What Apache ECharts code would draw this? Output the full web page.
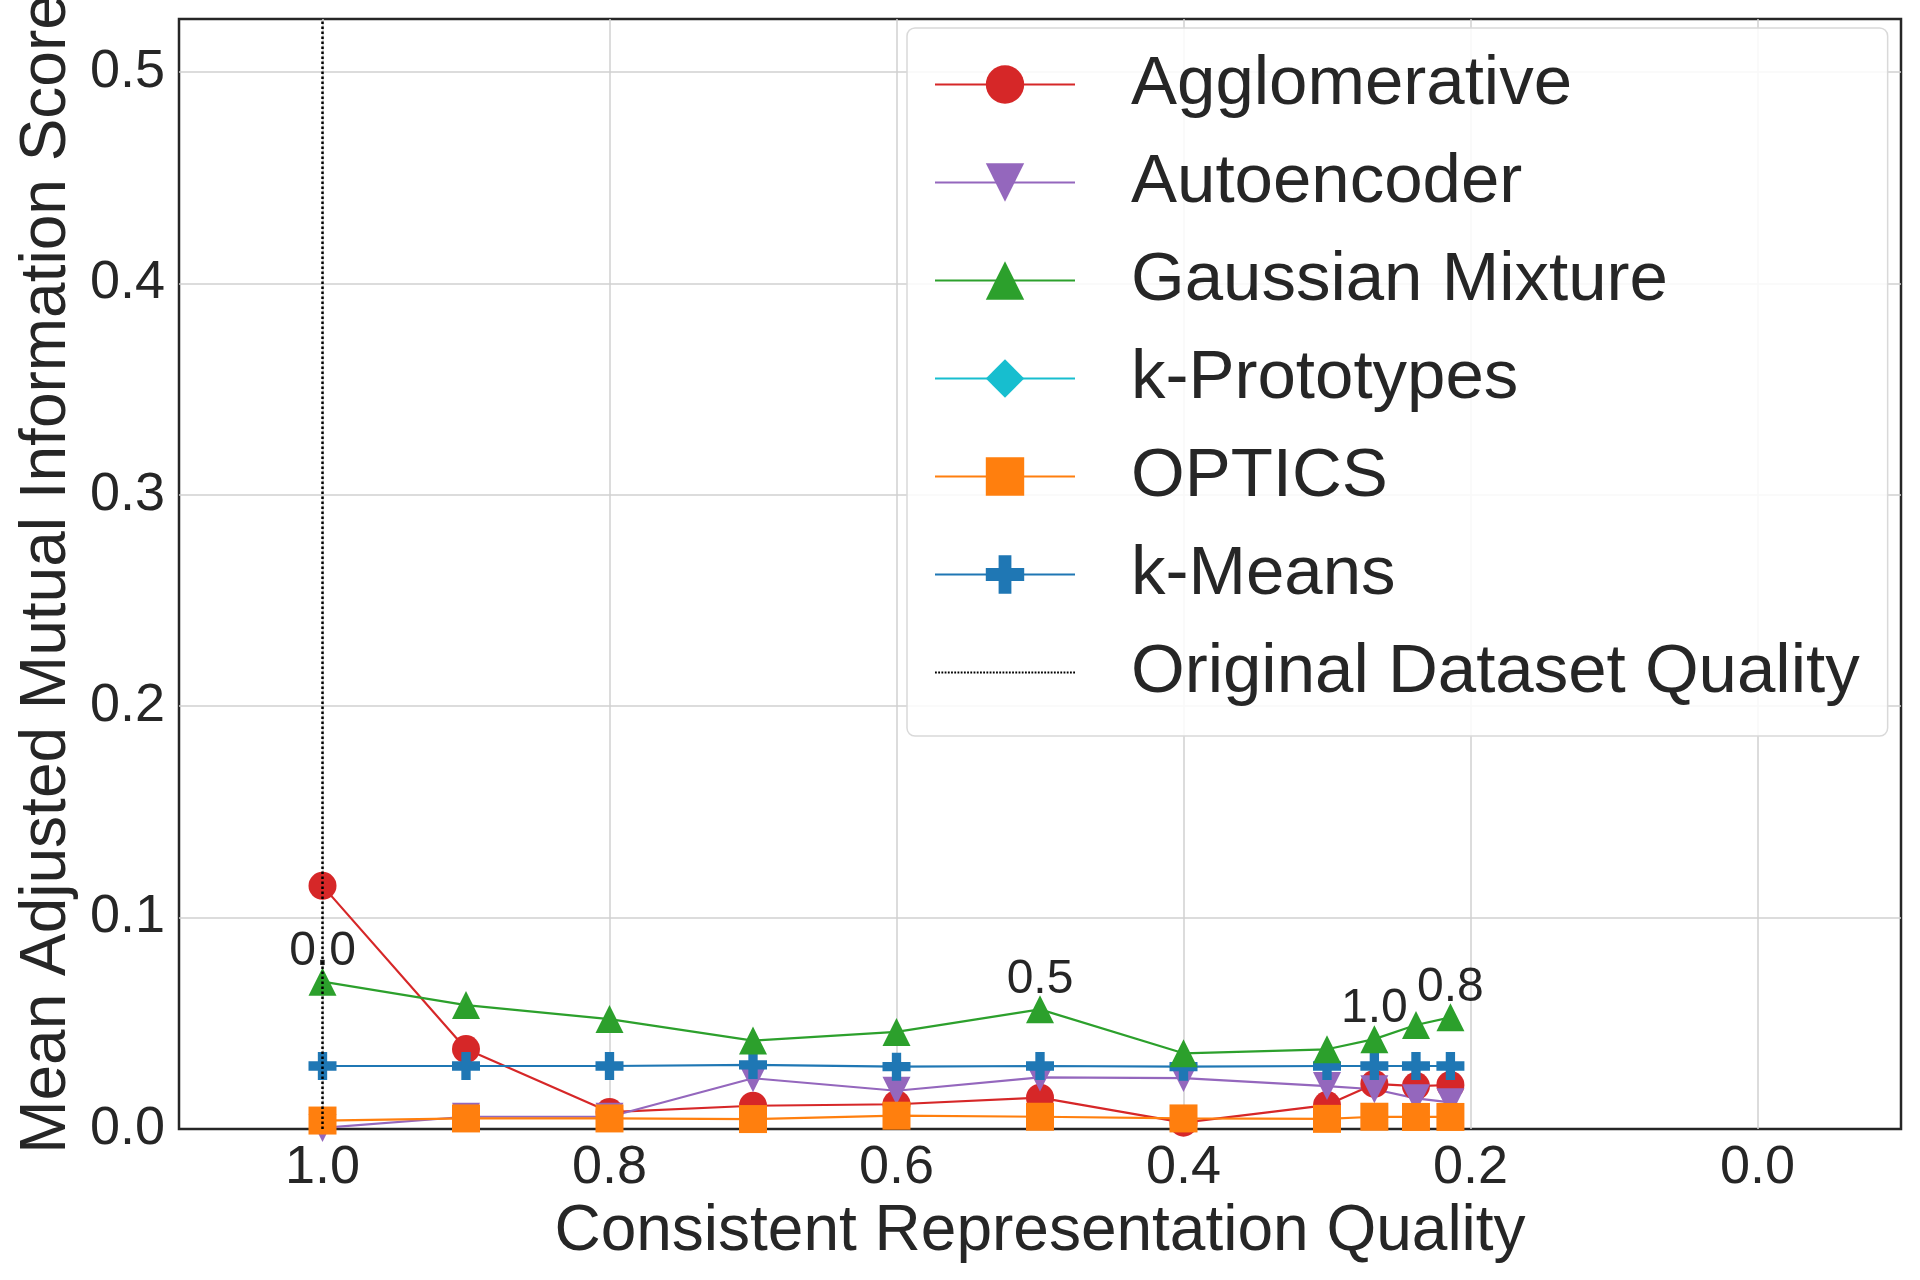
<!DOCTYPE html>
<html>
<head>
<meta charset="utf-8">
<script src="https://cdn.jsdelivr.net/npm/echarts@6/dist/echarts.min.js"></script>
<style>
html,body{margin:0;padding:0;background:#fff;}
#chart{width:1920px;height:1280px;}
</style>
</head>
<body>
<div id="chart"></div>
<script>
// ---- data ----
const quality = [1.0, 0.9, 0.8, 0.7, 0.6, 0.5, 0.4, 0.3, 0.267, 0.238, 0.214];
const agglomerative = [0.115, 0.0378, 0.008, 0.011, 0.0117, 0.0148, 0.003, 0.0113, 0.0213, 0.0203, 0.0208];
const autoencoder = [0.0005, 0.0058, 0.0058, 0.024, 0.0181, 0.0244, 0.0241, 0.0203, 0.0188, 0.0145, 0.0126];
const gaussianMixture = [0.0697, 0.0586, 0.052, 0.0418, 0.0459, 0.0566, 0.0358, 0.0377, 0.0425, 0.0492, 0.0528];
const kPrototypes = [];
const optics = [0.004, 0.005, 0.005, 0.0047, 0.0063, 0.0058, 0.005, 0.0048, 0.0058, 0.0057, 0.0057];
const kMeans = [0.0298, 0.0298, 0.0298, 0.0303, 0.0295, 0.0298, 0.0295, 0.0298, 0.0298, 0.0298, 0.0298];
const gaussianAnnotations = ['0.0', '', '', '', '', '0.5', '', '', '1.0', '', '0.8'];
const originalQuality = 1.0;
const seriesNames = ['Agglomerative', 'Autoencoder', 'Gaussian Mixture', 'k-Prototypes', 'OPTICS', 'k-Means', 'Original Dataset Quality'];

// ---- styling ----
const FONT = '"Liberation Sans", Arial, Helvetica, sans-serif';
const TXT = '#262626';
const plusPath = 'path://M1,0H2V1H3V2H2V3H1V2H0V1H1Z';
const downTriPath = 'path://M0,0L2,0L1,1.9Z';
let dots = 'path://';
for (let i = 0; i < 140; i += 3.2) dots += 'M' + i.toFixed(1) + ',0h1.8v1.8h-1.8z';

function pairs(ys) { return ys.map((y, i) => [quality[i], y]); }

function lineSeries(name, ys, color, symbol, extra) {
  return Object.assign({
    name: name,
    type: 'line',
    data: pairs(ys),
    symbol: symbol,
    symbolSize: 28,
    showAllSymbol: true,
    lineStyle: { color: color, width: 2.2 },
    itemStyle: { color: color },
    emphasis: { disabled: true },
    animation: false,
    z: 3
  }, extra || {});
}

const chart = echarts.init(document.getElementById('chart'), null, { renderer: 'canvas' });

const option = {
  backgroundColor: '#ffffff',
  animation: false,
  textStyle: { fontFamily: FONT },
  grid: {
    left: 179, right: 19, top: 19, bottom: 151,
    outerBoundsMode: 'none',
    containLabel: false,
    show: true, borderColor: '#262626', borderWidth: 2.5, backgroundColor: 'transparent'
  },
  legend: {
    orient: 'vertical',
    left: 907, top: 28,
    padding: [22, 28, 29, 27],
    itemWidth: 140, itemHeight: 48, itemGap: 29,
    backgroundColor: 'rgba(255,255,255,0.85)',
    borderColor: '#d9d9d9', borderWidth: 1.5, borderRadius: 8,
    textStyle: { fontSize: 69, color: TXT, fontFamily: FONT, padding: [0, 0, 0, 51] },
    data: [
      { name: seriesNames[0] }, { name: seriesNames[1] }, { name: seriesNames[2] },
      { name: seriesNames[3] }, { name: seriesNames[4] }, { name: seriesNames[5] },
      { name: seriesNames[6], icon: dots }
    ],
    selectedMode: false
  },
  xAxis: {
    type: 'value',
    inverse: true,
    min: -0.1, max: 1.1, splitNumber: 6,
    name: 'Consistent Representation Quality',
    nameLocation: 'middle', nameGap: 57,
    nameTextStyle: { fontSize: 64, color: TXT, fontFamily: FONT },
    axisLine: { show: false },
    axisTick: { show: false },
    axisLabel: {
      fontSize: 54, color: TXT, fontFamily: FONT, margin: 12,
      showMinLabel: false, showMaxLabel: false,
      formatter: v => v.toFixed(1)
    },
    splitLine: { show: true, showMinLine: false, showMaxLine: false, lineStyle: { color: '#d0d0d0', width: 1.5 } }
  },
  yAxis: {
    type: 'value',
    min: 0, max: 0.525, interval: 0.1,
    name: 'Mean Adjusted Mutual Information Score',
    nameLocation: 'middle', nameGap: 98,
    nameTextStyle: { fontSize: 64, color: TXT, fontFamily: FONT },
    axisLine: { show: false },
    axisTick: { show: false },
    axisLabel: {
      fontSize: 54, color: TXT, fontFamily: FONT, margin: 14,
      showMaxLabel: false,
      formatter: v => v.toFixed(1)
    },
    splitLine: { show: true, showMinLine: false, showMaxLine: false, lineStyle: { color: '#d0d0d0', width: 1.5 } }
  },
  series: [
    {
      name: seriesNames[6],
      type: 'line',
      data: [],
      symbol: 'none',
      itemStyle: { color: '#000000' },
      lineStyle: { color: '#000000', width: 2.5, type: [2.5, 2.5] },
      z: 2,
      markLine: {
        silent: true,
        symbol: ['none', 'none'],
        label: { show: false },
        lineStyle: { color: '#000000', width: 2.5, type: [2.5, 2.5] },
        data: [{ xAxis: originalQuality }],
        animation: false
      }
    },
    lineSeries(seriesNames[0], agglomerative, '#d62728', 'circle'),
    lineSeries(seriesNames[1], autoencoder, '#9467bd', downTriPath),
    lineSeries(seriesNames[2], gaussianMixture, '#2ca02c', 'triangle', {
      label: {
        show: true,
        position: 'inside',
        offset: [0, -30],
        fontSize: 48,
        color: TXT,
        fontFamily: FONT,
        formatter: p => gaussianAnnotations[p.dataIndex]
      },
      z: 4
    }),
    lineSeries(seriesNames[3], kPrototypes, '#17becf', 'diamond'),
    lineSeries(seriesNames[4], optics, '#ff7f0e', 'rect'),
    lineSeries(seriesNames[5], kMeans, '#1f77b4', plusPath)
  ]
};

chart.setOption(option);
</script>
</body>
</html>
